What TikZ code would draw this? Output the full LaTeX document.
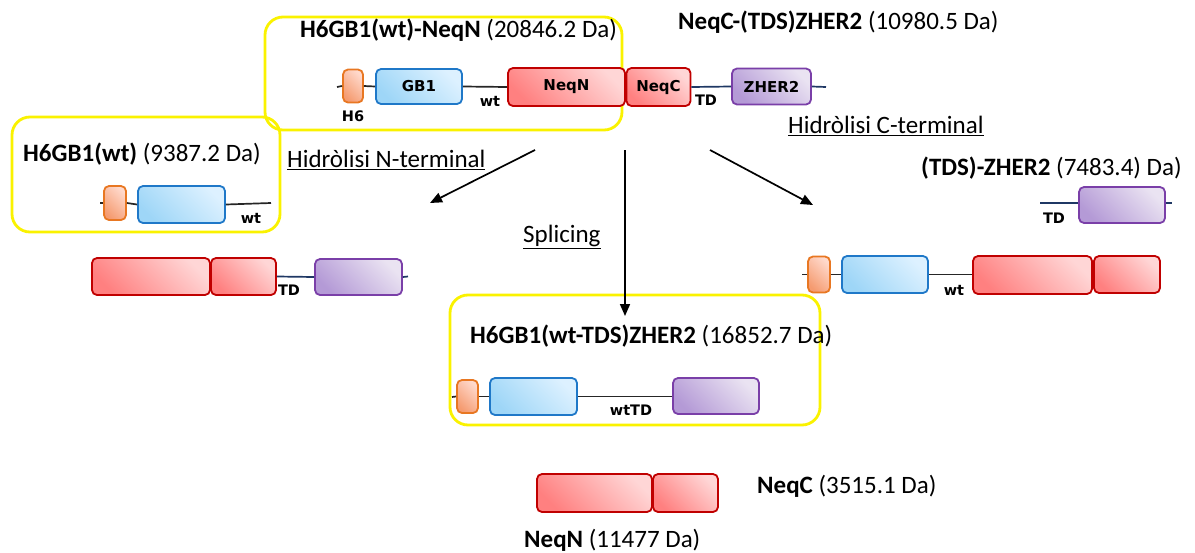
\documentclass[tikz,border=0pt]{standalone}
\usepackage{fontspec}
\setmainfont{Carlito}
\newfontfamily\lblfont{DejaVu Sans}
\usetikzlibrary{arrows.meta}

\definecolor{redE}{HTML}{C00000}
\definecolor{redD}{HTML}{FF8080}
\definecolor{redL}{HTML}{FFD6D6}
\definecolor{bluE}{HTML}{1F78C8}
\definecolor{bluD}{HTML}{9ED6F7}
\definecolor{bluL}{HTML}{DDF1FF}
\definecolor{oraE}{HTML}{E87722}
\definecolor{oraD}{HTML}{F59B70}
\definecolor{oraL}{HTML}{FFD9CC}
\definecolor{purE}{HTML}{7A3FA8}
\definecolor{purD}{HTML}{B49AD6}
\definecolor{purL}{HTML}{EAE3F2}
\definecolor{navy}{HTML}{1F3864}
\definecolor{frameY}{HTML}{FAF200}

\begin{document}
\begin{tikzpicture}[x=1pt,y=-1pt,
  part/.style={draw, line width=1.8pt, rounded corners=5pt, inner sep=0pt,
    font=\lblfont\bfseries\fontsize{15}{15}\selectfont},
  redpart/.style={part, draw=redE, top color=redL, bottom color=redD, shading angle=-45},
  bluepart/.style={part, draw=bluE, top color=bluL, bottom color=bluD, shading angle=-45},
  orapart/.style={part, draw=oraE, top color=oraL, bottom color=oraD, shading angle=-45},
  purpart/.style={part, draw=purE, top color=purL, bottom color=purD, shading angle=-45},
  frame/.style={draw=frameY, line width=2.8pt, rounded corners=18pt, inner sep=0pt},
  title/.style={anchor=west, inner sep=0pt, font=\fontsize{25}{27}\selectfont},
  tag/.style={inner sep=0pt, font=\lblfont\bfseries\fontsize{14.5}{14.5}\selectfont},
  blk/.style={line width=1.7pt, black!85},
  nvy/.style={line width=1.7pt, navy},
  step arrow/.style={line width=1.7pt, -{Triangle[length=12pt,width=10pt]}}
]
\useasboundingbox (0,0) rectangle (1195,552);

% ---------- frames ----------
\node[frame, minimum width=357pt, minimum height=113pt] (fTop) at (443.5,73.5) {};
\node[frame, minimum width=268pt, minimum height=115pt] (fLeft) at (146,174.5) {};
\node[frame, minimum width=370pt, minimum height=130pt] (fMid) at (635,360) {};

% ---------- precursor ----------
\node[title] (tTop) at (300,30) {\textbf{H6GB1(wt)-NeqN} (20846.2 Da)};
\node[title] (tTopR) at (678,22) {\textbf{NeqC-(TDS)ZHER2} (10980.5 Da)};

\coordinate (aS) at (337,87);
\coordinate (aE) at (826,87);
\node[orapart, minimum width=20pt, minimum height=33pt] (aH6) at (353,86) {};
\node[bluepart, minimum width=86pt, minimum height=35pt] (aGB) at (419,86.5) {GB1};
\node[redpart, minimum width=117pt, minimum height=38pt] (aN) at (566.5,87) {NeqN};
\node[redpart, minimum width=64pt, minimum height=38pt] (aC) at (658.5,87) {NeqC};
\node[purpart, minimum width=79pt, minimum height=36pt] (aZ) at (771.5,86.5) {ZHER2};
\draw[blk] (aS) -- (aH6.west);
\draw[blk] (aH6.east) -- (aGB.west);
\draw[blk] (aGB.east) -- (aN.west);
\draw[nvy] (aC.east) -- (aZ.west);
\draw[nvy] (aZ.east) -- (aE);
\node[tag] (aH6t) at (353,116) {H6};
\node[tag] (awt) at (490,101) {wt};
\node[tag] (aTD) at (706,100) {TD};

% ---------- arrows ----------
\coordinate (arL0) at (535,150);
\coordinate (arL1) at (430,203);
\coordinate (arM0) at (625,150);
\coordinate (arM1) at (625,316);
\coordinate (arR0) at (710,150);
\coordinate (arR1) at (813,205);
\draw[step arrow] (arL0) -- (arL1);
\draw[step arrow] (arM0) -- (arM1);
\draw[step arrow] (arR0) -- (arR1);
\node[title] (lN) at (287,160) {\underline{Hidròlisi N-terminal}};
\node[title] (lC) at (788,126) {\underline{Hidròlisi C-terminal}};
\node[title] (lS) at (523,237) {\underline{Splicing}};

% ---------- N-terminal hydrolysis ----------
\node[title] (tLeft) at (23,154) {\textbf{H6GB1(wt)} (9387.2 Da)};
\coordinate (bS) at (100,203);
\coordinate (bE) at (271,203);
\node[orapart, minimum width=22pt, minimum height=34pt] (bH6) at (115,203) {};
\node[bluepart, minimum width=87pt, minimum height=37pt] (bGB) at (181.5,204.5) {};
\draw[blk] (bS) -- (bH6.west);
\draw[blk] (bH6.east) -- (bGB.west);
\draw[blk] (bGB.east) -- (bE);
\node[tag] (bwt) at (251,218) {wt};

\node[redpart, minimum width=118pt, minimum height=37pt] (cN) at (151,276.5) {};
\node[redpart, minimum width=65pt, minimum height=37pt] (cC) at (243.5,276.5) {};
\node[purpart, minimum width=87pt, minimum height=36pt] (cZ) at (358.5,277) {};
\coordinate (cE) at (408,276.5);
\draw[nvy] (cC.east) -- (cZ.west);
\draw[nvy] (cZ.east) -- (cE);
\node[tag] (cTD) at (289,290) {TD};

% ---------- C-terminal hydrolysis ----------
\node[title] (tRight) at (921,168) {\textbf{(TDS)-ZHER2} (7483.4) Da)};
\coordinate (dS) at (1040,203);
\coordinate (dE) at (1172,203);
\node[purpart, minimum width=86pt, minimum height=36pt] (dZ) at (1122,205) {};
\draw[nvy] (dS) -- (dZ.west |- dS);
\draw[nvy] (dZ.east |- dE) -- (dE);
\node[tag] (dTD) at (1054,218) {TD};

\coordinate (eS) at (802,274.5);
\node[orapart, minimum width=22pt, minimum height=36pt] (eH6) at (819,274.5) {};
\node[bluepart, minimum width=86pt, minimum height=37pt] (eGB) at (885,274.5) {};
\node[redpart, minimum width=119pt, minimum height=38pt] (eN) at (1032.5,275) {};
\node[redpart, minimum width=66pt, minimum height=37pt] (eC) at (1127,274.5) {};
\draw[blk] (eS) -- (eH6.west);
\draw[blk] (eH6.east) -- (eGB.west);
\draw[blk] (eGB.east) -- (eN.west |- eGB.east);
\node[tag] (ewt) at (954,290) {wt};

% ---------- splicing product ----------
\node[title] (tMid) at (470,336) {\textbf{H6GB1(wt-TDS)ZHER2} (16852.7 Da)};
\coordinate (fS) at (452,397);
\node[orapart, minimum width=21pt, minimum height=33pt] (fH6) at (467.5,396.5) {};
\node[bluepart, minimum width=87pt, minimum height=37pt] (fGB) at (533.5,396.5) {};
\node[purpart, minimum width=86pt, minimum height=36pt] (fZ) at (716,396) {};
\draw[blk] (fS) -- (fH6.west);
\draw[blk] (fH6.east) -- (fGB.west);
\draw[blk] (fGB.east) -- (fZ.west |- fGB.east);
\node[tag] (fwt) at (631,410) {wtTD};

% ---------- excised intein ----------
\node[redpart, minimum width=115pt, minimum height=38pt] (gN) at (594.5,493) {};
\node[redpart, minimum width=65pt, minimum height=38pt] (gC) at (685.5,493) {};
\node[title] (tNeqC) at (757,486) {\textbf{NeqC} (3515.1 Da)};
\node[title] (tNeqN) at (524,540) {\textbf{NeqN} (11477 Da)};
\end{tikzpicture}
\end{document}
